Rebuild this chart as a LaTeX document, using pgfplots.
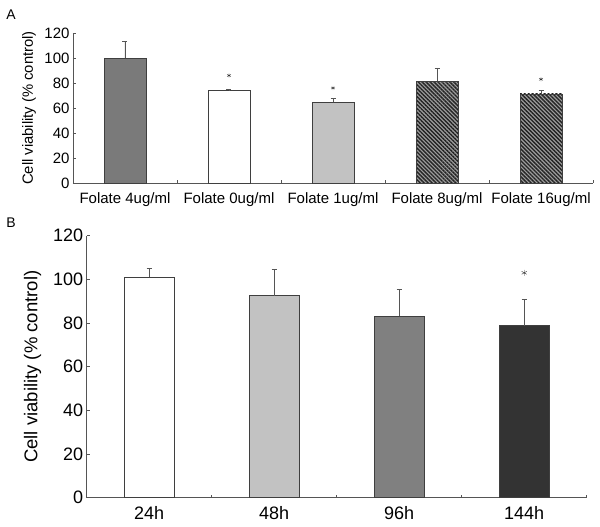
\documentclass[border=0pt]{standalone}
\usepackage{pgfplots}
\pgfplotsset{compat=1.18}
\usepackage{fontspec}
\setmainfont{Liberation Sans}
\usetikzlibrary{patterns.meta}
\definecolor{edge}{HTML}{3F3F3F}
\definecolor{axisc}{HTML}{555555}
\definecolor{gA}{HTML}{7A7A7A}
\definecolor{gL}{HTML}{C2C2C2}
\definecolor{gM}{HTML}{808080}
\definecolor{gD}{HTML}{333333}
\definecolor{hatchbg}{HTML}{9C9C9C}
\definecolor{hatchfg}{HTML}{222222}
\pgfplotsset{
  panel/.style={
    scale only axis, anchor=south west,
    axis lines*=left,
    axis line style={draw=axisc, line width=0.8pt},
    ymin=0, ymax=120, ytick={0,20,...,120},
    xtick={0,...,4},
    tick align=inside,
    major tick length=3pt,
    tick style={draw=axisc, line width=0.6pt},
    /pgf/number format/assume math mode=true,
    clip=false,
  },
  bb/.style={ybar, bar shift=0pt, draw=edge, line width=0.8pt,
    error bars/y dir=plus, error bars/y explicit,
    error bars/error bar style={draw=axisc, line width=0.8pt},
    error bars/error mark options={rotate=90, draw=axisc, line width=0.8pt, mark size=2.5pt}},
  hatch/.style={fill=hatchbg, postaction={pattern={Lines[angle=-45,distance=2.8pt,line width=1.35pt]}, pattern color=hatchfg}},
}
\begin{document}
\begin{tikzpicture}
\useasboundingbox (0,0) rectangle (600pt,527pt);
\node[font=\fontsize{14}{16}\selectfont] at (11pt,512pt) {A};
\node[font=\fontsize{14}{16}\selectfont] at (11pt,304pt) {B};
% Panel A
\begin{axis}[panel,
  at={(73pt,344pt)}, width=520pt, height=150pt,
  xmin=-0.5, xmax=4.5, bar width=42pt,
  xticklabels={Folate 4ug/ml, Folate 0ug/ml, Folate 1ug/ml, Folate 8ug/ml, Folate 16ug/ml},
  extra x ticks={0.5,1.5,2.5,3.5,4.5}, extra x tick labels={},
  tick label style={font=\fontsize{15}{16}\selectfont},
  xticklabel style={yshift=-6pt},
  ylabel={Cell viability (\% control)},
  ylabel style={font=\fontsize{14.8}{16}\selectfont, at={(axis description cs:0,0.5)}, anchor=center, yshift=44pt},
]
\addplot[bb, fill=gA] coordinates {(0,100) +- (0,13)};
\addplot[bb, fill=white] coordinates {(1,74) +- (0,0.6)};
\addplot[bb, fill=gL] coordinates {(2,64.5) +- (0,3)};
\addplot[bb, hatch] coordinates {(3,81.5) +- (0,10.5)};
\addplot[bb, hatch] coordinates {(4,71.2) +- (0,3)};
\addplot[only marks, mark=asterisk, mark size=2.2pt, color=gD] coordinates {(1,86) (2,76) (4,83)};
\end{axis}
% Panel B
\begin{axis}[panel,
  at={(86.7pt,29.3pt)}, width=500pt, height=262pt,
  xmin=-0.5, xmax=3.5, bar width=50pt,
  xtick={0,...,3},
  xticklabels={24h, 48h, 96h, 144h},
  extra x ticks={0.5,1.5,2.5,3.5}, extra x tick labels={},
  tick label style={font=\fontsize{18}{20}\selectfont},
  xticklabel style={yshift=-5pt},
  ylabel={Cell viability (\% control)},
  ylabel style={font=\fontsize{18.5}{20}\selectfont, at={(axis description cs:0,0.5)}, anchor=center, yshift=54pt},
]
\addplot[bb, fill=white] coordinates {(0,101) +- (0,4.2)};
\addplot[bb, fill=gL] coordinates {(1,92.5) +- (0,12)};
\addplot[bb, fill=gM] coordinates {(2,83.2) +- (0,12.3)};
\addplot[bb, fill=gD] coordinates {(3,78.7) +- (0,12.2)};
\addplot[only marks, mark=asterisk, mark size=3pt, color=gD] coordinates {(3,103)};
\end{axis}
\end{tikzpicture}
\end{document}
